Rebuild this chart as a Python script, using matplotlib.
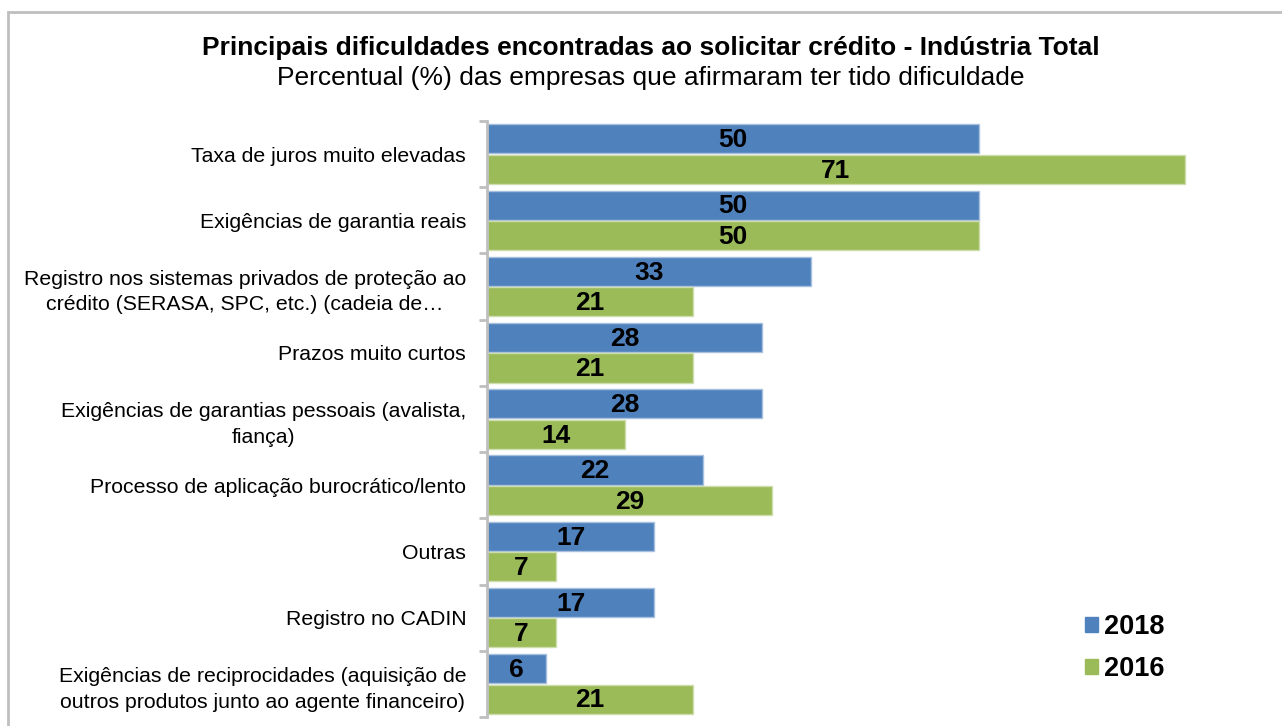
import matplotlib.pyplot as plt
import matplotlib.patches as mpatches
import numpy as np

plt.rcParams['font.family'] = ['Liberation Sans', 'DejaVu Sans']

categories = [
    "Taxa de juros muito elevadas",
    "Exigências de garantia reais",
    "Registro nos sistemas privados de proteção ao\ncrédito (SERASA, SPC, etc.) (cadeia de…",
    "Prazos muito curtos",
    "Exigências de garantias pessoais (avalista,\nfiança)",
    "Processo de aplicação burocrático/lento",
    "Outras",
    "Registro no CADIN",
    "Exigências de reciprocidades (aquisição de\noutros produtos junto ao agente financeiro)",
]
values_2018 = [50, 50, 33, 28, 28, 22, 17, 17, 6]
values_2016 = [71, 50, 21, 21, 14, 29, 7, 7, 21]
series_labels = ["2018", "2016"]

blue = "#4F81BD"
green = "#9BBB59"
blue_edge = "#A7C0DE"
green_edge = "#CDDDAC"

W, H = 1282, 726
fig = plt.figure(figsize=(W / 100, H / 100), dpi=100)

# outer frame
fig.add_artist(mpatches.Rectangle((8 / W, -0.1), 1.2, 1 - 12 / H + 0.1,
                                  transform=fig.transFigure, fill=False,
                                  edgecolor="#BFBFBF", linewidth=2))

left = 487 / W
top = 1 - 121 / H
bottom = 1 - 717 / H
xmax = 72
right = (487 + xmax * 9.83) / W
ax = fig.add_axes([left, bottom, right - left, top - bottom])

n = len(categories)
y = np.arange(n)
h = 0.44
gap = 0.02
ax.barh(y - h / 2 - gap / 2, values_2018, height=h, color=blue, edgecolor=blue_edge,
        linewidth=1, label=series_labels[0])
ax.barh(y + h / 2 + gap / 2, values_2016, height=h, color=green, edgecolor=green_edge,
        linewidth=1, label=series_labels[1])

for i in range(n):
    ax.text(values_2018[i] / 2, y[i] - h / 2 - gap / 2 + 0.02, str(values_2018[i]),
            ha="center", va="center", fontsize=19, fontweight="bold", color="black")
    ax.text(values_2016[i] / 2, y[i] + h / 2 + gap / 2 + 0.02, str(values_2016[i]),
            ha="center", va="center", fontsize=19, fontweight="bold", color="black")

ax.set_ylim(n - 0.5, -0.5)
ax.set_xlim(0, xmax)
ax.set_yticks(y)
ax.set_yticklabels(categories, fontsize=15.3, ha="right", multialignment="center",
                   linespacing=1.45)
ax.tick_params(axis="y", length=0, pad=15)
ax.set_yticks(np.arange(n + 1) - 0.5, minor=True)
ax.tick_params(axis="y", which="minor", length=6, color="#BFBFBF", width=2)
ax.set_xticks([])
for s in ["top", "right", "bottom"]:
    ax.spines[s].set_visible(False)
ax.spines["left"].set_color("#BFBFBF")
ax.spines["left"].set_linewidth(2)

fig.text(651 / W, 1 - 48 / H, "Principais dificuldades encontradas ao solicitar crédito - Indústria Total",
         ha="center", va="center", fontsize=19, fontweight="bold")
fig.text(651 / W, 1 - 78 / H, "Percentual (%) das empresas que afirmaram ter tido dificuldade",
         ha="center", va="center", fontsize=19)

leg = fig.legend(handles=[mpatches.Patch(color=blue, label="2018"),
                          mpatches.Patch(color=green, label="2016")],
                 loc="center left", bbox_to_anchor=(1061 / W, 1 - 648 / H),
                 frameon=False, prop={"size": 19.5, "weight": "bold"},
                 handlelength=0.48, handleheight=0.48, handletextpad=0.22,
                 labelspacing=0.6)

fig.savefig("out.png", dpi=100)
